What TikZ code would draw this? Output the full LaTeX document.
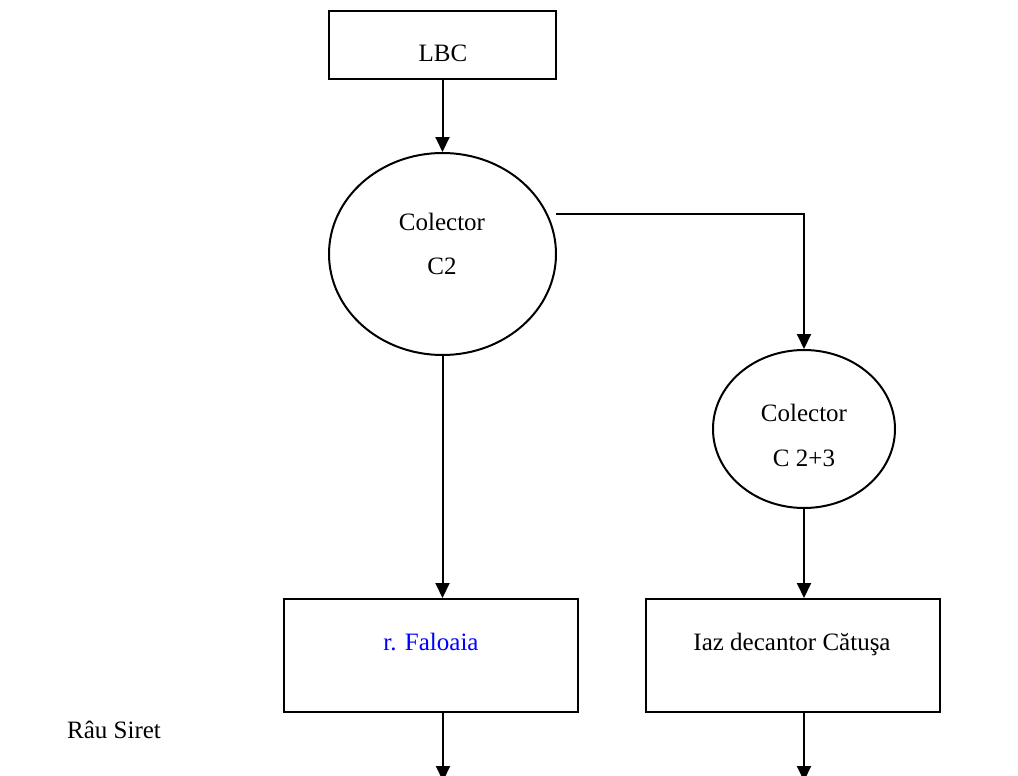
\documentclass[tikz,border=0pt]{standalone}
\usepackage{fontspec}
\setmainfont{Liberation Serif}
\usetikzlibrary{shapes.geometric,arrows.meta}
\begin{document}
\begin{tikzpicture}[x=1pt,y=-1pt,
  every node/.style={font=\fontsize{25}{30}\selectfont},
  frame/.style={draw, line width=2pt, rectangle, inner sep=0pt},
  oval/.style={draw, line width=2pt, ellipse, inner sep=0pt},
  lbl/.style={inner sep=0pt},
  flow/.style={line width=2pt, -{Triangle[length=15pt,width=14pt]}}]
\useasboundingbox (0,0) rectangle (1018,776);

% source box
\node[frame, minimum width=227pt, minimum height=68pt] (lbc) at (442.5,45) {};
\node[lbl] (lbctext) at (443,53) {LBC};

% collectors
\node[oval, minimum width=227pt, minimum height=202pt] (c2) at (442.5,254) {};
\node[lbl] (c2a) at (442,222) {Colector};
\node[lbl] (c2b) at (442,266) {C2};

\node[oval, minimum width=182pt, minimum height=158pt] (c23) at (804,429) {};
\node[lbl] (c23a) at (804,413) {Colector};
\node[lbl] (c23b) at (804,458) {C 2+3};

% receivers
\node[frame, minimum width=294pt, minimum height=113pt] (fal) at (431,655.5) {};
\node[lbl, text={rgb,255:red,0;green,0;blue,255}] (faltext) at (431,642) {r. Faloaia};

\node[frame, minimum width=294pt, minimum height=113pt] (iaz) at (793,655.5) {};
\node[lbl] (iaztext) at (792,644) {Iaz decantor Cătuşa};

\node[lbl] (siret) at (114,730) {Râu Siret};

% connectors
\coordinate (split) at (556,214);
\coordinate (out1) at (443,781);
\coordinate (out2) at (804,781);

\draw[flow] (lbc.south) -- (c2.north);
\draw[flow] (split) -| (c23.north);
\draw[flow] (c2.south) -- (c2.south |- fal.north);
\draw[flow] (c23.south) -- (c23.south |- iaz.north);
\draw[flow] (out1 |- fal.south) -- (out1);
\draw[flow] (out2 |- iaz.south) -- (out2);
\end{tikzpicture}
\end{document}
